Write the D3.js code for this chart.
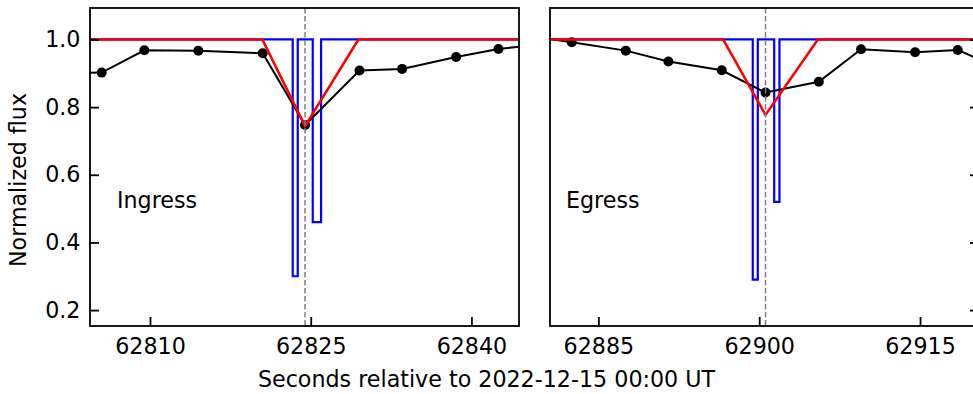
<!DOCTYPE html>
<html>
<head>
<meta charset="utf-8">
<script src="https://cdn.jsdelivr.net/npm/d3@7"></script>
<style>
  body { margin: 0; background: #fff; }
  svg { display: block; font-family: "DejaVu Sans", sans-serif; }
</style>
</head>
<body>
<script>
// observed light curve, seconds after 2022-12-15 00:00 UT
var ingressTime = [62801.5, 62805.49, 62809.47, 62814.51, 62820.52, 62824.47, 62829.55, 62833.53, 62838.57, 62842.52, 62846.5];
var ingressFlux = [0.900, 0.902, 0.968, 0.967, 0.959, 0.747, 0.908, 0.913, 0.948, 0.972, 0.986];
var egressTime = [62878.5, 62882.52, 62887.56, 62891.53, 62896.51, 62900.59, 62905.56, 62909.50, 62914.54, 62918.52, 62922.5];
var egressFlux = [1.010, 0.992, 0.967, 0.935, 0.909, 0.843, 0.875, 0.971, 0.962, 0.969, 0.914];

// smoothed model (red)
var ingressModelTime = [62795, 62820.49, 62824.47, 62829.45, 62850];
var ingressModelFlux = [1.0, 1.0, 0.744, 1.0, 1.0];
var egressModelTime = [62875, 62896.64, 62900.59, 62905.47, 62925];
var egressModelFlux = [1.0, 1.0, 0.777, 1.0, 1.0];

// step model (blue), each level holds until the next time
var ingressStepTime = [62795, 62823.32, 62823.79, 62825.19, 62825.97, 62850];
var ingressStepFlux = [1.0, 0.30, 1.0, 0.46, 1.0, 1.0];
var egressStepTime = [62875, 62899.40, 62899.87, 62901.40, 62901.89, 62925];
var egressStepFlux = [1.0, 0.29, 1.0, 0.52, 1.0, 1.0];

var ingressEvent = 62824.47;
var egressEvent = 62900.59;

var yTicks = [0.2, 0.4, 0.6, 0.8, 1.0];
var ingressTicks = [62810, 62825, 62840];
var egressTicks = [62885, 62900, 62915];

var width = 973;
var height = 394;
var panelWidth = 429;
var panelTop = 8;
var panelBottom = 326;
var fontSize = 22.2;

var svg = d3.select("body").append("svg")
  .attr("width", width)
  .attr("height", height);

var yScale = d3.scaleLinear()
  .domain([0.153, 1.093])
  .range([panelBottom, panelTop]);

function zip(t, f) {
  return t.map(function(d, i) { return { t: d, f: f[i] }; });
}

drawPanel("ingress", 90, [62804.4, 62844.44], ingressTicks,
  zip(ingressTime, ingressFlux), zip(ingressModelTime, ingressModelFlux),
  zip(ingressStepTime, ingressStepFlux), ingressEvent, "Ingress", 117, "left");

drawPanel("egress", 550, [62880.49, 62920.5], egressTicks,
  zip(egressTime, egressFlux), zip(egressModelTime, egressModelFlux),
  zip(egressStepTime, egressStepFlux), egressEvent, "Egress", 566, "right");

function drawPanel(id, left, domain, ticks, obs, model, step, event, label, labelX, ySide) {
  var xScale = d3.scaleLinear()
    .domain(domain)
    .range([left, left + panelWidth]);

  svg.append("clipPath")
    .attr("id", "clip-" + id)
    .append("rect")
      .attr("x", left)
      .attr("y", panelTop)
      .attr("width", panelWidth)
      .attr("height", panelBottom - panelTop);

  var plot = svg.append("g").attr("clip-path", "url(#clip-" + id + ")");

  // blue step model
  plot.append("path")
    .datum(step)
    .attr("fill", "none")
    .attr("stroke", "#0000ff")
    .attr("stroke-width", 2.2)
    .attr("d", d3.line().x(d => xScale(d.t)).y(d => yScale(d.f)).curve(d3.curveStepAfter));

  // observed points
  plot.append("path")
    .datum(obs)
    .attr("fill", "none")
    .attr("stroke", "black")
    .attr("stroke-width", 2)
    .attr("d", d3.line().x(d => xScale(d.t)).y(d => yScale(d.f)));

  plot.selectAll("circle.dot")
    .data(obs)
    .enter()
      .append("circle")
      .attr("class", "dot")
      .attr("cx", d => xScale(d.t))
      .attr("cy", d => yScale(d.f))
      .attr("r", 5)
      .attr("fill", "black");

  // red model
  plot.append("path")
    .datum(model)
    .attr("fill", "none")
    .attr("stroke", "#ff0000")
    .attr("stroke-width", 2.6)
    .attr("d", d3.line().x(d => xScale(d.t)).y(d => yScale(d.f)));

  // event time
  plot.append("line")
    .attr("x1", xScale(event))
    .attr("x2", xScale(event))
    .attr("y1", panelTop)
    .attr("y2", panelBottom)
    .attr("stroke", "#808080")
    .attr("stroke-width", 1.5)
    .attr("stroke-dasharray", "5.5,2.5");

  // x axis, ticks pointing in
  var xAxis = d3.axisBottom(xScale)
    .tickValues(ticks)
    .tickFormat(d3.format("d"))
    .tickSizeInner(-9)
    .tickSizeOuter(0)
    .tickPadding(12.2);

  var gx = svg.append("g")
    .attr("transform", "translate(0," + panelBottom + ")")
    .call(xAxis);
  styleAxis(gx);

  // y axis
  var gy;
  if (ySide == "left") {
    gy = svg.append("g")
      .attr("transform", "translate(" + left + ",0)")
      .call(d3.axisLeft(yScale)
        .tickValues(yTicks)
        .tickFormat(d3.format(".1f"))
        .tickSizeInner(-9)
        .tickSizeOuter(0)
        .tickPadding(9.5));
  } else {
    gy = svg.append("g")
      .attr("transform", "translate(" + (left + panelWidth) + ",0)")
      .call(d3.axisRight(yScale)
        .tickValues(yTicks)
        .tickFormat("")
        .tickSizeInner(-9)
        .tickSizeOuter(0));
  }
  styleAxis(gy);

  // frame
  svg.append("rect")
    .attr("x", left)
    .attr("y", panelTop)
    .attr("width", panelWidth)
    .attr("height", panelBottom - panelTop)
    .attr("fill", "none")
    .attr("stroke", "black")
    .attr("stroke-width", 1.8);

  svg.append("text")
    .attr("x", labelX)
    .attr("y", 208.3)
    .attr("font-size", fontSize)
    .attr("fill", "black")
    .text(label);
}

function styleAxis(g) {
  g.select(".domain").remove();
  g.selectAll(".tick line")
    .attr("stroke", "black")
    .attr("stroke-width", 1.8);
  g.selectAll(".tick text")
    .attr("font-family", "DejaVu Sans")
    .attr("font-size", fontSize)
    .attr("fill", "black");
}

svg.append("text")
  .attr("x", width / 2)
  .attr("y", 387)
  .attr("text-anchor", "middle")
  .attr("font-size", fontSize)
  .attr("fill", "black")
  .text("Seconds relative to 2022-12-15 00:00 UT");

svg.append("text")
  .attr("transform", "translate(26,180) rotate(-90)")
  .attr("text-anchor", "middle")
  .attr("font-size", fontSize)
  .attr("fill", "black")
  .text("Normalized flux");
</script>
</body>
</html>
